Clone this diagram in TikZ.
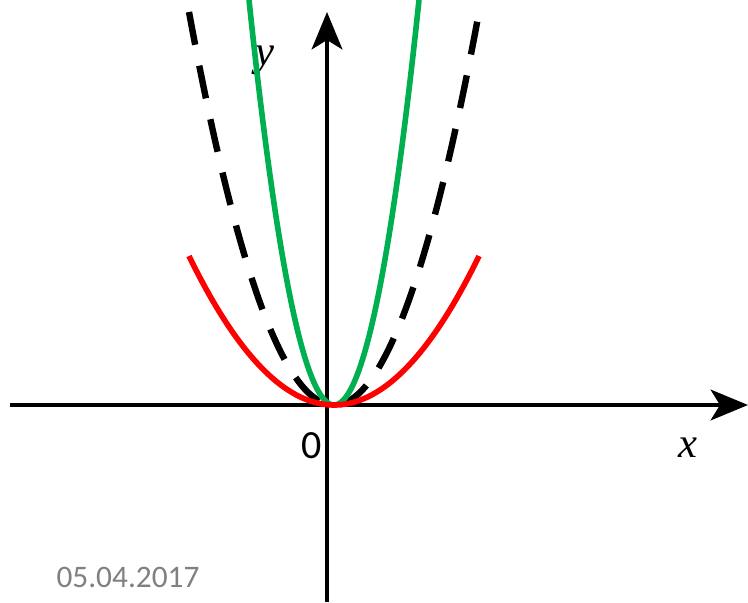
\documentclass[tikz,border=0pt]{standalone}
\usepackage{fontspec}
\newfontfamily\calfont{Carlito}
\newfontfamily\timesfont{Liberation Serif}
\usepackage{tikz}
\usetikzlibrary{arrows.meta,positioning}
\definecolor{curvegreen}{RGB}{0,176,80}
\definecolor{dategray}{RGB}{128,128,128}
\tikzset{
  axis/.style={line width=3.3pt,-{Stealth[length=28pt,width=23pt,inset=7pt]}},
  curve/.style={line width=4.2pt,smooth,samples=80},
  varlabel/.style={font=\timesfont\itshape\fontsize{32}{32}\selectfont},
}

\begin{document}
\begin{tikzpicture}[x=0.75pt,y=-0.75pt]
  \useasboundingbox (0,0) rectangle (748,602);
  \coordinate (xl) at (10,405);
  \coordinate (xr) at (748,405);
  \coordinate (yb) at (327,602);
  \coordinate (yt) at (327,12);
  \draw[axis] (xl) -- (xr);
  \draw[axis] (yb) -- (yt);
  \node[varlabel] (ylab) at (265,60) {y};
  \node[varlabel] (xlab) at (688,448) {x};
  \node[font=\calfont\fontsize{30}{30}\selectfont] (zero) at (312,446) {0};
  \node[font=\calfont\fontsize{23.5}{23.5}\selectfont,text=dategray] (date) at (128,577) {05.04.2017};
  \draw[curve,line width=4.8pt,dash pattern=on 25pt off 16pt,domain=-145:145] plot ({334+\x},{405-393*(\x/145)^2});
  \draw[curve,curvegreen,domain=-85:85] plot ({334+\x},{405-405*(\x/85)^2});
  \draw[curve,red,domain=-145:145] plot ({334+\x},{405-149*(\x/145)^2});
\end{tikzpicture}
\end{document}
